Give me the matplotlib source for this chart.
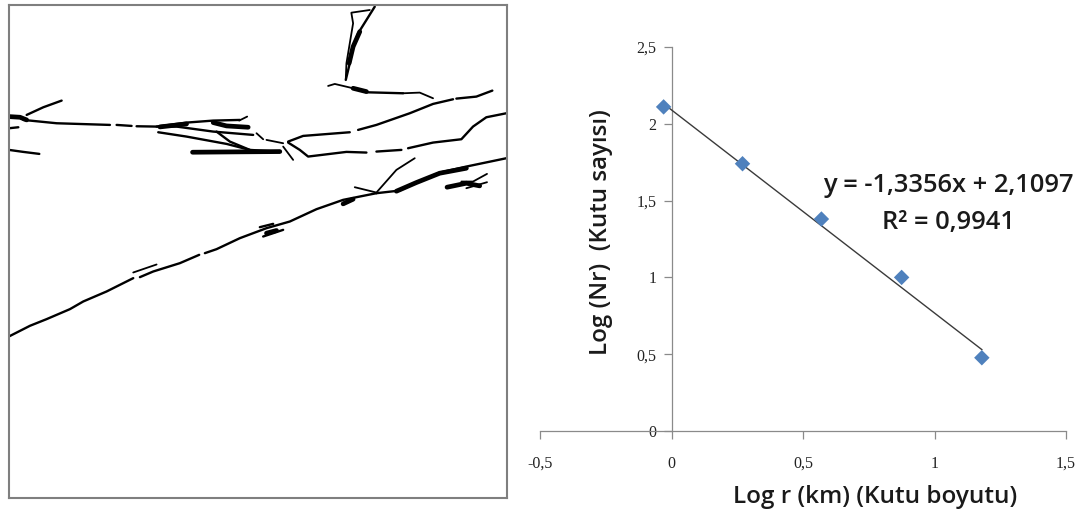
import matplotlib
matplotlib.use("Agg")
import matplotlib.pyplot as plt

W, H = 1086, 512

# ---- scatter data ----
log_r = [-0.03, 0.27, 0.57, 0.875, 1.18]
log_nr = [2.11, 1.74, 1.38, 1.0, 0.477]
trend_x = [-0.03, 1.18]
trend_y = [2.13, 0.53]
x_ticks = [-0.5, 0, 0.5, 1, 1.5]
x_tick_labels = ["-0,5", "0", "0,5", "1", "1,5"]
y_ticks = [0, 0.5, 1, 1.5, 2, 2.5]
y_tick_labels = ["0", "0,5", "1", "1,5", "2", "2,5"]
x_label = "Log r (km) (Kutu boyutu)"
y_label = "Log (Nr)  (Kutu sayısı)"
equation = "y = -1,3356x + 2,1097"
r_squared = "R² = 0,9941"

# ---- fracture map traces (map units), grouped by stroke weight ----
thin_traces = [
    [(400, 818), (470, 794)],
    [(985, 258), (1005, 252), (1060, 265)],
    [(1210, 280), (1260, 278), (1300, 295)],
    [(1065, 562), (1130, 578), (1190, 510), (1245, 475)],
    [(770, 400), (790, 418)],
    [(800, 420), (850, 430)],
    [(850, 440), (880, 480)],
    [(1055, 38), (1110, 30)],
    [(1055, 40), (1060, 70), (1050, 130), (1040, 190), (1038, 238)],
    [(718, 362), (742, 350)],
    [(1385, 545), (1420, 545), (1462, 522)],
    [(1400, 565), (1462, 547)],
]
medium_traces = [
    [(27, 1010), (90, 978), (140, 958), (210, 928), (250, 905), (320, 875), (400, 835)],
    [(420, 832), (460, 815), (540, 790), (598, 765)],
    [(615, 760), (650, 748), (720, 715), (800, 685), (870, 665), (950, 628), (1030, 600), (1130, 580)],
    [(1130, 580), (1200, 572), (1250, 548), (1320, 518), (1400, 500), (1520, 475)],
    [(70, 360), (170, 370), (330, 375)],
    [(350, 375), (395, 378)],
    [(410, 379), (470, 380), (560, 368), (640, 362), (720, 360)],
    [(80, 345), (130, 322), (185, 302)],
    [(27, 385), (55, 382)],
    [(27, 450), (70, 456), (118, 462)],
    [(470, 380), (530, 380), (640, 395), (700, 400), (760, 405)],
    [(475, 397), (560, 410), (680, 432), (750, 450), (830, 455)],
    [(650, 395), (690, 425), (750, 450)],
    [(865, 425), (910, 408), (1050, 397)],
    [(1075, 390), (1130, 375), (1230, 340), (1300, 312), (1360, 298)],
    [(1370, 296), (1430, 290), (1478, 272)],
    [(865, 428), (900, 450), (925, 470), (1040, 456), (1100, 458)],
    [(1130, 455), (1205, 450)],
    [(1225, 445), (1300, 428), (1385, 418), (1420, 380), (1460, 352), (1520, 340)],
    [(1125, 20), (1100, 60), (1075, 100), (1060, 140), (1050, 190), (1038, 240)],
    [(780, 682), (820, 672)],
    [(790, 710), (850, 690)],
    [(1060, 265), (1100, 277), (1210, 280)],
]
thick_traces = [
    [(27, 350), (60, 352), (80, 360)],
    [(578, 457), (700, 456), (840, 455)],
    [(640, 368), (680, 378), (745, 382)],
    [(1060, 265), (1100, 275)],
    [(1190, 574), (1250, 548), (1320, 520), (1400, 505)],
    [(1342, 562), (1400, 550), (1440, 558)],
    [(1080, 95), (1060, 140), (1048, 190)],
    [(1030, 612), (1060, 598)],
    [(800, 700), (830, 692)],
    [(480, 381), (560, 372)],
]
map_x_range = (27, 1522)
map_y_range = (1495, 15)

fig = plt.figure(figsize=(W / 100, H / 100), dpi=100, facecolor="white")


def px_axes(l, t, r, b):
    return fig.add_axes([l / W, 1 - b / H, (r - l) / W, (b - t) / H])


# ---- left map ----
am = px_axes(9, 5, 507, 498)
am.set_xlim(*map_x_range)
am.set_ylim(*map_y_range)
am.set_xticks([])
am.set_yticks([])
for s in am.spines.values():
    s.set_color("#7f7f7f")
    s.set_linewidth(1.5)
for traces, lw in ((thin_traces, 1.3), (medium_traces, 1.7), (thick_traces, 3.4)):
    for tr in traces:
        am.plot([p[0] for p in tr], [p[1] for p in tr], color="black", lw=lw,
                solid_capstyle="round", solid_joinstyle="round")

# ---- right scatter ----
ax = px_axes(540, 47, 1066, 431)
ax.set_xlim(-0.5, 1.5)
ax.set_ylim(0, 2.5)
ax.patch.set_alpha(0)
for s in ("top", "right"):
    ax.spines[s].set_visible(False)
ax.spines["left"].set_position(("data", 0))
for s in ("left", "bottom"):
    ax.spines[s].set_color("#8a8a8a")
    ax.spines[s].set_linewidth(0.9)
ax.set_xticks(x_ticks)
ax.set_xticklabels(x_tick_labels, family="Liberation Serif", fontsize=11.5, color="#222222")
ax.set_yticks(y_ticks)
ax.set_yticklabels(y_tick_labels, family="Liberation Serif", fontsize=11.5, color="#222222")
ax.tick_params(axis="x", length=6, width=0.9, color="#8a8a8a", direction="out", pad=12)
ax.tick_params(axis="y", length=6, width=0.9, color="#8a8a8a", direction="out", pad=5)
for lab in ax.get_xticklabels() + ax.get_yticklabels():
    lab.set_clip_on(False)
ax.plot(trend_x, trend_y, color="#3a3a3a", lw=1.0, zorder=3)
ax.scatter(log_r, log_nr, marker="D", s=62, color="#4f81bd", edgecolors="none", zorder=4, clip_on=False)

tf = dict(family="Open Sans", fontweight="semibold", color="#1a1a1a")
fig.text(875 / W, 1 - 497 / H, x_label, ha="center", va="center", fontsize=17.5, **tf)
fig.text(601 / W, 1 - 232 / H, y_label, ha="center", va="center", rotation=90, fontsize=17.4, **tf)
fig.text(948 / W, 1 - 186 / H, equation, ha="center", va="center", fontsize=18.4, **tf)
fig.text(948 / W, 1 - 222 / H, r_squared, ha="center", va="center", fontsize=18.4, **tf)

fig.savefig("out.png", dpi=100, facecolor="white")
